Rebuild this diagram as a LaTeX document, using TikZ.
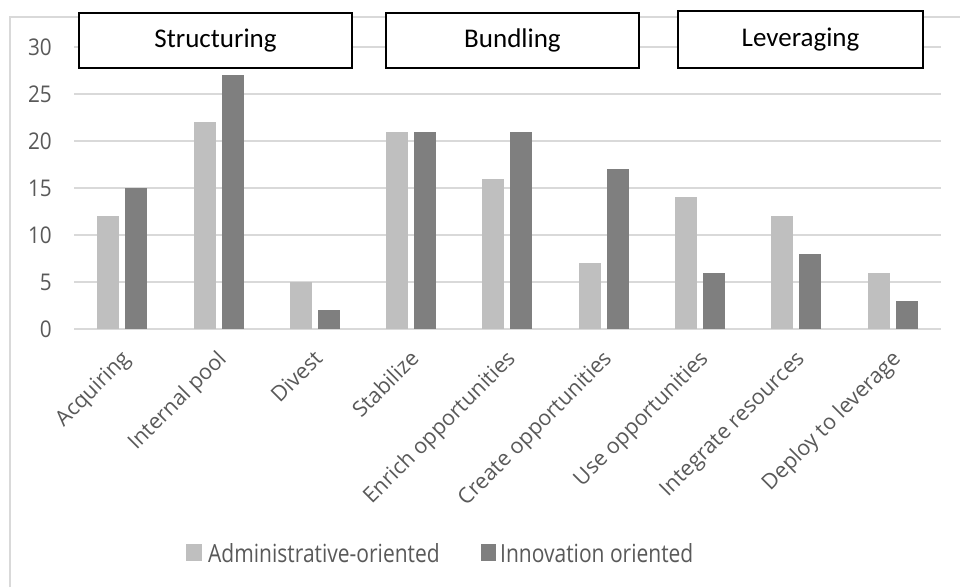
\documentclass[tikz,border=0pt]{standalone}
\usepackage{fontspec}
\setmainfont{Open Sans}
\newfontfamily\boxfont{Carlito}
\newfontfamily\legfont[FakeStretch=0.84]{Open Sans}
\newfontfamily\tickfont[FakeStretch=0.9]{Open Sans}
\definecolor{lightbar}{HTML}{BFBFBF}
\definecolor{darkbar}{HTML}{7F7F7F}
\definecolor{gridc}{HTML}{D9D9D9}
\definecolor{txt}{HTML}{595959}
\begin{document}
\begin{tikzpicture}[x=1pt,y=-1pt,
  gridline/.style={gridc, line width=1.3pt},
  phasebox/.style={draw=black, line width=1.5pt, fill=white, inner sep=0pt,
    font=\boxfont\fontsize{27}{30}\selectfont},
  ticklab/.style={text=txt, font=\tickfont\fontsize{23}{25}\selectfont, anchor=east, inner sep=0pt},
  catlab/.style={text=txt, font=\fontsize{21.5}{24}\selectfont, rotate=45, anchor=base east, inner sep=0pt},
  legtext/.style={text=txt, font=\legfont\fontsize{25}{28}\selectfont, anchor=west, inner sep=0pt}]
\useasboundingbox (0,0) rectangle (960,587);
\fill[white] (0,0) rectangle (960,587);
% chart area border (left and top visible)
\draw[gridc, line width=1.2pt] (10,587) -- (10,17) -- (960,17);
% gridlines and tick labels
\foreach \v in {0,...,6}{
  \pgfmathsetmacro\yy{329-47*\v}
  \pgfmathtruncatemacro\val{5*\v}
  \draw[gridline] (74,\yy) -- (941,\yy);
  \node[ticklab] (tick\v) at (52,\yy) {\val};
}
% bars and category labels
\foreach \i/\lab/\a/\b in {0/Acquiring/12/15, 1/Internal pool/22/27, 2/Divest/5/2,
  3/Stabilize/21/21, 4/Enrich opportunities/16/21, 5/Create opportunities/7/17,
  6/Use opportunities/14/6, 7/Integrate resources/12/8, 8/Deploy to leverage/6/3}{
  \pgfmathsetmacro\cx{74+96.33*\i+48.17}
  \fill[lightbar] ({\cx-25},328.5) rectangle ({\cx-3},{329-9.4*\a});
  \fill[darkbar] ({\cx+3},328.5) rectangle ({\cx+25},{329-9.4*\b});
  \node[catlab] (cat\i) at ({\cx+9},360) {\lab};
}
% phase boxes
\node[phasebox, minimum width=273pt, minimum height=55pt] (structuring) at (215.5,40.5) {Structuring};
\node[phasebox, minimum width=253pt, minimum height=55pt] (bundling) at (512.5,40.5) {Bundling};
\node[phasebox, minimum width=245pt, minimum height=57pt] (leveraging) at (800.5,39.5) {Leveraging};
% legend
\fill[lightbar] (186,544) rectangle (202,561);
\node[legtext] (legadmin) at (208,553) {Administrative-oriented};
\fill[darkbar] (481,544) rectangle (496,561);
\node[legtext] (leginno) at (500,553) {Innovation oriented};
\end{tikzpicture}
\end{document}
